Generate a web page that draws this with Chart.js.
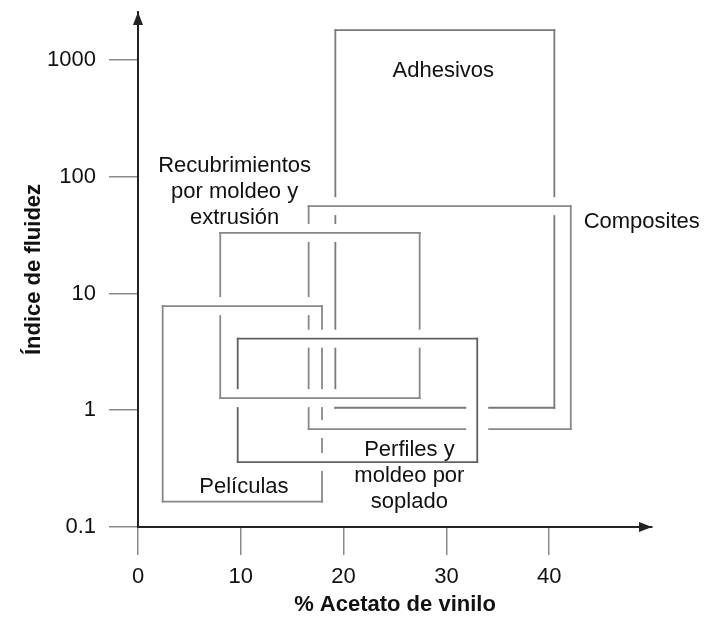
<!DOCTYPE html>
<html lang="es">
<head>
<meta charset="utf-8">
<title>Índice de fluidez frente a % de acetato de vinilo</title>
<script src="https://cdn.jsdelivr.net/npm/chart.js@4.4.0/dist/chart.umd.min.js"></script>
<style>
  html, body { margin: 0; padding: 0; background: #fff; }
  #grades { display: block; }
</style>
</head>
<body>
<canvas id="grades" width="705" height="628"></canvas>
<script>
const FONT = "'Liberation Sans', Arial, sans-serif";

// EVA grades: vinyl acetate range (%) and melt flow index range
const grades = ['Adhesivos', 'Composites', 'Recubrimientos por moldeo y extrusión', 'Películas', 'Perfiles y moldeo por soplado'];
const vaMin = [19.2, 16.6, 8.0, 2.4, 9.7];
const vaMax = [40.5, 42.1, 27.4, 17.9, 33.0];
const mfiMin = [1.05, 0.69, 1.27, 0.165, 0.36];
const mfiMax = [1800, 56, 33, 7.8, 4.1];

const vaTicks = [0, 10, 20, 30, 40];
const mfiTicks = [0.1, 1, 10, 100, 1000];

// text written beside each box, one entry per line
const gradeText = [['Adhesivos'], ['Composites'], ['Recubrimientos', 'por moldeo y', 'extrusión'], ['Películas'], ['Perfiles y', 'moldeo por', 'soplado']];
// anchor of the first text line (x in %, y in MFI, at the baseline)
const textX = [29.7, 49.0, 9.4, 10.3, 26.4];
const textY = [715, 36.4, 110, 0.195, 0.406];

const lineColors = ['#7a7a7a', '#888888', '#888888', '#888888', '#606060'];
// sides that pass over every other line
const frontSides = [[], [], [], [], ['right']];

function sidePoints(i, side) {
    if (side === 'left' || side === 'right') {
        const x = side === 'left' ? vaMin[i] : vaMax[i];
        return [{ x, y: mfiMin[i] }, { x, y: mfiMax[i] }];
    }
    const y = side === 'top' ? mfiMax[i] : mfiMin[i];
    return [{ x: vaMin[i], y }, { x: vaMax[i], y }];
}

function edgeDataset(i, sides, layer) {
    const data = [];
    sides.forEach((side, k) => {
        if (k > 0) data.push({ x: vaMin[i], y: null });
        data.push(...sidePoints(i, side));
    });
    return {
        label: grades[i],
        grade: i,
        layer: layer,
        sides: sides,
        data: data,
        borderColor: lineColors[i],
        borderWidth: 1.8,
        borderCapStyle: 'square',
        pointRadius: 0,
        fill: false,
        spanGaps: false,
        tension: 0,
        order: { v: 3, h: 2, front: 1 }[layer]
    };
}

const datasets = [];
grades.forEach((g, i) => {
    const back = ['left', 'right'].filter(s => !frontSides[i].includes(s));
    const flat = ['top', 'bottom'].filter(s => !frontSides[i].includes(s));
    if (back.length) datasets.push(edgeDataset(i, back, 'v'));
    if (flat.length) datasets.push(edgeDataset(i, flat, 'h'));
    if (frontSides[i].length) datasets.push(edgeDataset(i, frontSides[i], 'front'));
});

// horizontal edges (and front sides) cut a small white gap into the lines behind them
const weave = {
    id: 'weave',
    beforeDatasetsDraw(chart) {
        chart.$weaveDone = false;
    },
    beforeDatasetDraw(chart, args) {
        const ds = chart.data.datasets[args.index];
        const { ctx, scales: { x, y } } = chart;
        ctx.save();
        ctx.fillStyle = '#fff';
        if (ds.layer === 'h' && !chart.$weaveDone) {
            grades.forEach((g, i) => {
                const x1 = x.getPixelForValue(vaMin[i]) + 3;
                const x2 = x.getPixelForValue(vaMax[i]) - 3;
                [mfiMin[i], mfiMax[i]].forEach(v => {
                    const py = y.getPixelForValue(v);
                    ctx.fillRect(x1, py - 9, x2 - x1, 18);
                });
            });
            chart.$weaveDone = true;
        }
        if (ds.layer === 'front') {
            const i = ds.grade;
            const y1 = y.getPixelForValue(mfiMax[i]) + 3;
            const y2 = y.getPixelForValue(mfiMin[i]) - 3;
            ds.sides.forEach(side => {
                const px = x.getPixelForValue(side === 'left' ? vaMin[i] : vaMax[i]);
                ctx.fillRect(px - 11, y1, 22, y2 - y1);
            });
        }
        ctx.restore();
    }
};

const annotate = {
    id: 'annotate',
    afterDatasetsDraw(chart) {
        const { ctx, scales: { x, y } } = chart;
        ctx.save();
        ctx.font = '22px ' + FONT;
        ctx.fillStyle = '#111';
        ctx.textAlign = 'center';
        ctx.textBaseline = 'alphabetic';
        gradeText.forEach((lines, i) => {
            const px = x.getPixelForValue(textX[i]);
            const py = y.getPixelForValue(textY[i]);
            lines.forEach((t, k) => ctx.fillText(t, px, py + k * 26));
        });
        ctx.restore();
    },
    afterDraw(chart) {
        // arrow heads at the ends of both axes
        const { ctx, chartArea: { left, top, right, bottom } } = chart;
        ctx.save();
        ctx.fillStyle = '#222';
        ctx.beginPath();
        ctx.moveTo(left, top);
        ctx.lineTo(left - 5, top + 13);
        ctx.lineTo(left + 5, top + 13);
        ctx.closePath();
        ctx.fill();
        ctx.beginPath();
        ctx.moveTo(right, bottom);
        ctx.lineTo(right - 13, bottom - 5);
        ctx.lineTo(right - 13, bottom + 5);
        ctx.closePath();
        ctx.fill();
        ctx.restore();
    }
};

const ctx = document.getElementById('grades').getContext('2d');
const gradesChart = new Chart(ctx, {
    type: 'line',
    data: { datasets: datasets },
    plugins: [weave, annotate],
    options: {
        responsive: false,
        animation: false,
        layout: { padding: { top: 12, right: 53, left: 0, bottom: 0 } },
        plugins: {
            legend: { display: false },
            tooltip: { enabled: false }
        },
        scales: {
            x: {
                type: 'linear',
                min: 0,
                max: 50,
                afterBuildTicks: scale => { scale.ticks = vaTicks.map(v => ({ value: v })); },
                afterFit: scale => {
                    scale.height = 101;
                    scale.paddingLeft = 0;
                    scale.paddingRight = 0;
                },
                border: { display: true, color: '#222', width: 2 },
                grid: { drawOnChartArea: false, drawTicks: true, tickLength: 28, color: '#8a8a8a', lineWidth: 1.5 },
                ticks: {
                    autoSkip: false,
                    maxRotation: 0,
                    padding: 9,
                    color: '#111',
                    font: { family: FONT, size: 22 },
                    callback: v => String(v)
                },
                title: {
                    display: true,
                    text: '% Acetato de vinilo',
                    color: '#111',
                    font: { family: FONT, size: 22, weight: 'bold' },
                    padding: { top: 0, bottom: 10 }
                }
            },
            y: {
                type: 'logarithmic',
                min: 0.1,
                max: 2576,
                afterBuildTicks: scale => { scale.ticks = mfiTicks.map(v => ({ value: v })); },
                afterFit: scale => {
                    scale.width = 138;
                    scale.paddingTop = 0;
                    scale.paddingBottom = 0;
                },
                border: { display: true, color: '#222', width: 2 },
                grid: { drawOnChartArea: false, drawTicks: true, tickLength: 29, color: '#8a8a8a', lineWidth: 1.5 },
                ticks: {
                    autoSkip: false,
                    padding: 13,
                    color: '#111',
                    font: { family: FONT, size: 22 },
                    callback: v => String(v)
                },
                title: {
                    display: true,
                    text: 'Índice de fluidez',
                    color: '#111',
                    font: { family: FONT, size: 22, weight: 'bold' },
                    padding: { top: 21, bottom: 0 }
                }
            }
        }
    }
});
</script>
</body>
</html>
